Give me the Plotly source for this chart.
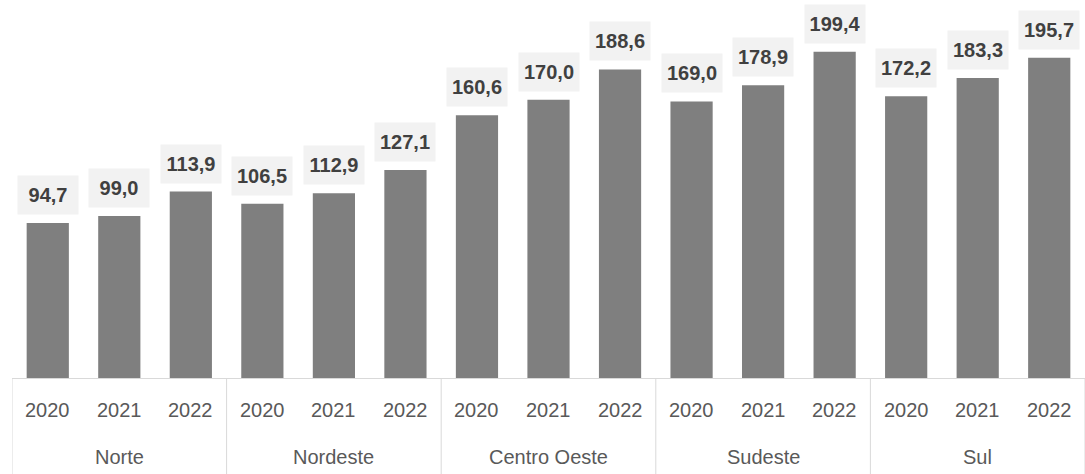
import plotly.graph_objects as go

regions = ["Norte", "Nordeste", "Centro Oeste", "Sudeste", "Sul"]
years = ["2020", "2021", "2022"]
values = {
    "Norte": [94.7, 99.0, 113.9],
    "Nordeste": [106.5, 112.9, 127.1],
    "Centro Oeste": [160.6, 170.0, 188.6],
    "Sudeste": [169.0, 178.9, 199.4],
    "Sul": [172.2, 183.3, 195.7],
}

x_region = [r for r in regions for _ in years]
x_year = [y for _ in regions for y in years]
y_vals = [v for r in regions for v in values[r]]

FONT = "Liberation Sans, Arial, sans-serif"
FIG_W, FIG_H = 1085, 474
MARGIN_L, MARGIN_B = 12, 96
PLOT_H = FIG_H - MARGIN_B
AXIS_GREY = "#d9d9d9"
n_years = len(years)


def fmt(v):
    return f"{v:.1f}".replace(".", ",")


fig = go.Figure(
    go.Bar(
        x=[x_region, x_year],
        y=y_vals,
        marker=dict(color="#7f7f7f", line=dict(width=0)),
        hoverinfo="skip",
    )
)

# value labels on light grey boxes above each bar
for i, v in enumerate(y_vals):
    fig.add_annotation(
        x=i, y=v, xref="x", yref="y",
        text=f"<b>{fmt(v)}</b>",
        showarrow=False,
        yanchor="bottom",
        yshift=8,
        bgcolor="#f2f2f2",
        width=50,
        height=28,
        borderpad=5,
        font=dict(family=FONT, size=20, color="#404040"),
    )

# two-level category labels under the axis
for i, yr in enumerate(x_year):
    fig.add_annotation(
        x=i, y=0, xref="x", yref="paper",
        text=yr, showarrow=False,
        yanchor="middle", yshift=-32,
        font=dict(family=FONT, size=20, color="#595959"),
    )
for g, reg in enumerate(regions):
    fig.add_annotation(
        x=g * n_years + (n_years - 1) / 2, y=0, xref="x", yref="paper",
        text=reg, showarrow=False,
        yanchor="middle", yshift=-79,
        font=dict(family=FONT, size=20, color="#595959"),
    )

# group dividers running from the axis to the bottom edge
for g in range(len(regions) + 1):
    xb = g * n_years - 0.5
    fig.add_shape(
        type="line", xref="x", yref="paper",
        x0=xb, x1=xb, y0=0, y1=-MARGIN_B / PLOT_H,
        line=dict(color=AXIS_GREY, width=1),
    )

fig.update_layout(
    width=FIG_W,
    height=FIG_H,
    margin=dict(l=MARGIN_L, r=0, t=0, b=MARGIN_B),
    paper_bgcolor="white",
    plot_bgcolor="white",
    bargap=0.41,
    showlegend=False,
    font=dict(family=FONT, size=20, color="#595959"),
)
fig.update_xaxes(
    type="multicategory",
    range=[-0.5, len(y_vals) - 0.5],
    showline=True,
    linecolor=AXIS_GREY,
    linewidth=1,
    showdividers=False,
    showticklabels=False,
    ticks="",
    showgrid=False,
)
fig.update_yaxes(
    range=[0, 231],
    visible=False,
    showgrid=False,
    zeroline=False,
)

fig.write_html("out.html")
